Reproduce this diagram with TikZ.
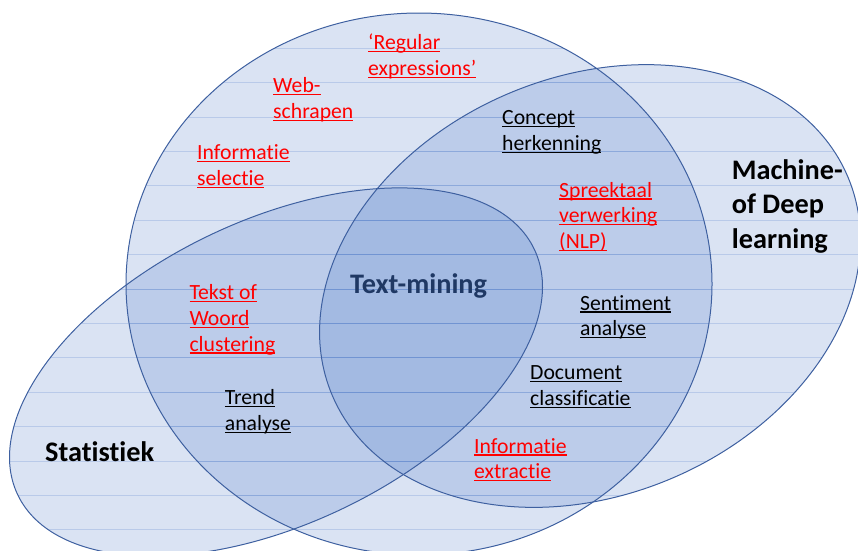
\documentclass[tikz,border=0pt]{standalone}
\usepackage{fontspec}
\setmainfont{Carlito}[Ligatures=NoCommon]

\definecolor{vennfill}{RGB}{68,114,196}
\definecolor{vennline}{RGB}{62,96,160}
\definecolor{labred}{RGB}{255,0,0}
\definecolor{labnavy}{RGB}{31,56,100}

% underline at a fixed depth below the baseline, in the current text colour
\newcommand\undl[1]{\setbox0=\hbox{#1}\rlap{\rule[-2.65pt]{\wd0}{1.3pt}}\box0}
% stacked lines whose baseline is that of the first line
\newcommand\lbl[1]{\begin{tabular}[t]{@{}l@{}}#1\end{tabular}}

\begin{document}
\begin{tikzpicture}[x=1pt,y=-1pt,
  vennfillst/.style={fill=vennfill, fill opacity=0.2},
  vennedge/.style={draw=vennline, line width=1pt},
  stripe/.style={draw=vennfill, opacity=0.22, line width=1pt},
  itemlab/.style={inner sep=0pt, anchor=base west, font=\fontsize{21.7}{25.8}\selectfont},
  redlab/.style={itemlab, text=labred},
  blacklab/.style={itemlab, text=black},
  headlab/.style={inner sep=0pt, anchor=base west, font=\fontsize{28.3}{34.5}\selectfont\bfseries}]

\useasboundingbox (0,0) rectangle (858,550);

% --- the three sets: fills ---
\path[vennfillst] (419,284) ellipse [x radius=293pt, y radius=271pt];
\path[vennfillst, rotate around={25.4:(276,372)}] (276,372) ellipse [x radius=286pt, y radius=152pt];
\path[vennfillst, rotate around={23:(590,286)}] (590,286) ellipse [x radius=280pt, y radius=209pt];

% --- horizontal texture lines inside each set ---
\begin{scope}
  \clip (419,284) ellipse [x radius=293pt, y radius=271pt];
  \foreach \k in {0,...,15} \draw[stripe] (0,13.8+34.4*\k) -- (858,13.8+34.4*\k);
\end{scope}
\begin{scope}
  \clip[rotate around={25.4:(276,372)}] (276,372) ellipse [x radius=286pt, y radius=152pt];
  \foreach \k in {0,...,15} \draw[stripe] (0,13.8+34.4*\k) -- (858,13.8+34.4*\k);
\end{scope}
\begin{scope}
  \clip[rotate around={23:(590,286)}] (590,286) ellipse [x radius=280pt, y radius=209pt];
  \foreach \k in {0,...,15} \draw[stripe] (0,13.8+34.4*\k) -- (858,13.8+34.4*\k);
\end{scope}

% --- outlines ---
\path[vennedge] (419,284) ellipse [x radius=293pt, y radius=271pt];
\path[vennedge, rotate around={25.4:(276,372)}] (276,372) ellipse [x radius=286pt, y radius=152pt];
\path[vennedge, rotate around={23:(590,286)}] (590,286) ellipse [x radius=280pt, y radius=209pt];

% --- set titles ---
\node[headlab, text=labnavy] (textmining) at (350,293.3) {Text-mining};
\node[headlab, text=black] (ml) at (731.7,179) {\lbl{Machine-\\of Deep\\learning}};
\node[headlab, text=black] (stat) at (45,461.7) {Statistiek};

% --- techniques ---
\node[redlab] (regex) at (368,49.5) {\lbl{\undl{‘Regular}\\\undl{expressions’}}};
\node[redlab] (web) at (273,92.5) {\lbl{\undl{Web-}\\\undl{schrapen}}};
\node[redlab] (infosel) at (197,159.5) {\lbl{\undl{Informatie}\\\undl{selectie}}};
\node[blacklab] (concept) at (502,124.5) {\lbl{\undl{Concept}\\\undl{herkenning}}};
\node[redlab] (nlp) at (559,197) {\lbl{\undl{Spreektaal}\\\undl{verwerking}\\\undl{(NLP)}}};
\node[redlab] (cluster) at (189.3,299.5) {\lbl{\undl{Tekst of}\\\undl{Woord}\\\undl{clustering}}};
\node[blacklab] (trend) at (224.7,404.5) {\lbl{\undl{Trend}\\\undl{analyse}}};
\node[blacklab] (sentiment) at (580,310) {\lbl{\undl{Sentiment}\\\undl{analyse}}};
\node[blacklab] (doc) at (530,379.5) {\lbl{\undl{Document}\\\undl{classificatie}}};
\node[redlab] (infoextr) at (474,453) {\lbl{\undl{Informatie}\\\undl{extractie}}};

\end{tikzpicture}
\end{document}
